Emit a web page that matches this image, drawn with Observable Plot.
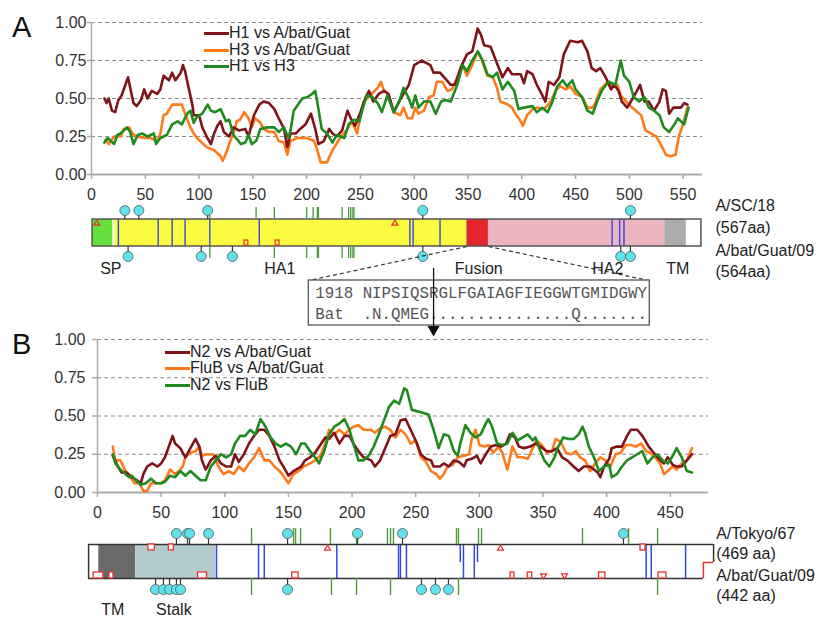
<!DOCTYPE html>
<html><head><meta charset="utf-8">
<script src="https://cdn.jsdelivr.net/npm/d3@7"></script>
<script src="https://cdn.jsdelivr.net/npm/@observablehq/plot@0.6"></script>
<style>
body{margin:0;background:#fff;}
#fig{position:relative;width:816px;height:619px;overflow:hidden;background:#fff;}
</style></head>
<body><div id="fig"></div>
<script>
// ---------- Panel A: HA identity ----------
const xTicksA = [0,50,100,150,200,250,300,350,400,450,500,550];
const yTicks = [0,0.25,0.5,0.75,1];
const seriesA = ["H1 vs A/bat/Guat","H3 vs A/bat/Guat","H1 vs H3"];
const h1BatA = [[12,.50],[14,.47],[16,.50],[19,.42],[22,.41],[25,.49],[28,.52],[32,.60],[34,.64],[36,.57],[39,.47],[42,.45],[46,.49],[49,.56],[52,.50],[56,.55],[61,.53],[64,.56],[67,.65],[72,.62],[75,.67],[78,.62],[83,.67],[85,.72],[87,.68],[90,.58],[94,.45],[95,.39],[100,.39],[103,.31],[107,.25],[111,.20],[114,.27],[117,.32],[120,.35],[123,.28],[128,.25],[132,.31],[137,.29],[143,.30],[146,.25],[151,.39],[156,.46],[160,.48],[165,.47],[170,.43],[174,.37],[179,.30],[182,.18],[185,.27],[190,.27],[194,.30],[199,.33],[204,.40],[208,.30],[211,.20],[216,.22],[221,.30],[224,.27],[228,.25],[233,.29],[238,.42],[241,.37],[245,.32],[250,.41],[255,.51],[258,.55],[262,.48],[267,.53],[272,.55],[276,.53],[281,.41],[286,.48],[290,.53],[295,.59],[300,.72],[307,.75],[315,.72],[318,.67],[324,.67],[334,.59],[338,.59],[343,.70],[349,.79],[354,.81],[359,.96],[362,.92],[365,.85],[371,.84],[377,.73],[382,.64],[387,.70],[391,.66],[399,.66],[402,.60],[405,.68],[410,.66],[414,.59],[417,.55],[422,.48],[425,.61],[430,.59],[435,.64],[439,.79],[445,.88],[452,.87],[456,.88],[461,.81],[465,.70],[469,.68],[473,.70],[478,.64],[483,.56],[486,.59],[490,.55],[493,.48],[498,.44],[504,.51],[510,.59],[514,.48],[518,.48],[523,.42],[528,.48],[531,.56],[534,.55],[537,.40],[541,.44],[548,.44],[551,.47],[554,.46]];
const h3BatA = [[13,.23],[16,.20],[21,.25],[27,.25],[30,.30],[35,.31],[38,.27],[42,.25],[49,.24],[55,.24],[61,.22],[64,.27],[67,.39],[70,.40],[75,.46],[84,.46],[87,.40],[92,.31],[95,.27],[98,.24],[101,.22],[107,.18],[114,.16],[120,.12],[122,.09],[125,.14],[128,.20],[132,.27],[135,.35],[138,.36],[142,.41],[146,.37],[149,.31],[152,.37],[157,.34],[160,.30],[165,.28],[170,.28],[174,.22],[179,.21],[182,.13],[185,.22],[191,.24],[200,.24],[207,.22],[210,.16],[213,.08],[219,.08],[222,.13],[225,.17],[231,.24],[238,.30],[242,.35],[247,.27],[250,.39],[253,.48],[259,.52],[266,.57],[269,.61],[272,.55],[276,.53],[281,.41],[287,.39],[290,.44],[294,.37],[298,.37],[301,.44],[304,.40],[309,.42],[314,.51],[318,.52],[321,.61],[326,.61],[331,.55],[335,.56],[340,.64],[345,.72],[349,.65],[354,.72],[359,.81],[363,.75],[368,.65],[373,.64],[377,.57],[380,.48],[387,.46],[391,.44],[394,.40],[399,.35],[401,.32],[405,.39],[410,.43],[414,.44],[419,.43],[422,.44],[427,.48],[432,.56],[436,.58],[441,.56],[445,.58],[450,.53],[456,.51],[461,.44],[466,.44],[469,.48],[473,.56],[480,.61],[484,.58],[489,.59],[492,.52],[497,.48],[501,.45],[506,.42],[511,.39],[515,.29],[520,.27],[525,.25],[529,.20],[534,.13],[538,.12],[543,.13],[546,.25],[549,.31],[554,.44]];
const h1h3A = [[12,.21],[15,.24],[18,.22],[21,.20],[24,.26],[27,.27],[33,.31],[36,.28],[39,.20],[43,.26],[47,.27],[52,.25],[58,.27],[60,.20],[64,.24],[70,.26],[75,.33],[80,.35],[84,.33],[89,.40],[92,.42],[95,.34],[98,.38],[103,.40],[108,.46],[111,.42],[115,.41],[120,.43],[125,.35],[128,.36],[132,.26],[139,.20],[143,.21],[146,.26],[149,.20],[153,.22],[157,.30],[163,.31],[170,.31],[174,.28],[179,.31],[183,.24],[185,.29],[188,.42],[193,.47],[196,.50],[201,.51],[205,.53],[208,.55],[211,.43],[214,.30],[219,.27],[224,.21],[228,.26],[235,.24],[239,.33],[244,.36],[249,.35],[252,.43],[256,.52],[261,.51],[266,.47],[270,.41],[275,.52],[281,.41],[286,.48],[290,.57],[295,.50],[298,.44],[301,.52],[304,.44],[309,.48],[315,.48],[320,.40],[325,.48],[329,.49],[334,.48],[340,.59],[345,.72],[349,.68],[354,.75],[359,.81],[363,.76],[368,.66],[373,.64],[377,.67],[382,.56],[387,.61],[393,.55],[397,.43],[402,.44],[410,.45],[414,.41],[419,.44],[424,.41],[428,.47],[433,.58],[438,.62],[442,.58],[447,.62],[450,.56],[456,.51],[461,.42],[466,.40],[470,.48],[475,.56],[481,.61],[487,.59],[492,.75],[495,.65],[500,.61],[504,.51],[509,.48],[514,.51],[518,.44],[523,.42],[528,.39],[532,.31],[537,.28],[542,.33],[545,.37],[551,.33],[555,.44]];

// HA domain map (residue positions)
const haDomainNames = ["SP","gap","HA1","Fusion","HA2","TM","tail"];
const haDomainStart = [1,20,22,349,369,533,553];
const haDomainEnd   = [20,22,349,369,533,553,567];
const haLabels = ["SP","HA1","Fusion","HA2","TM"];
const haLabelPos = [18,175,360,480,545];
const haBlue = [25,62,75,87,110,156,296,299,324,484,491,495];
const haCyanTop = [31,44,108,308,501];
const haCyanBottom = [34,102,131,308,492,501];
const haGreenTop = [110,153,170,200,206,210,211,233,239,241,243,244];
const haGreenBottom = [110,170,200,210,211,233,239,241,243,244];
const haRedTri = [5,282];
const haRedBump = [144,173];
const haSeqNames = ["A/SC/18","(567aa)","A/bat/Guat/09","(564aa)"];
const fusionRows = ["1918 NIPSIQSRGLFGAIAGFIEGGWTGMIDGWY","Bat  .N.QMEG...............Q......."];

// ---------- Panel B: NA identity ----------
const xTicksB = [0,50,100,150,200,250,300,350,400,450];
const seriesB = ["N2 vs A/bat/Guat","FluB vs A/bat/Guat","N2 vs FluB"];
const n2BatB = [[12,.24],[16,.17],[19,.13],[23,.13],[27,.10],[31,.08],[34,.06],[36,.12],[39,.17],[43,.19],[47,.17],[50,.19],[53,.23],[56,.30],[59,.37],[61,.32],[65,.29],[69,.23],[73,.29],[77,.35],[80,.30],[82,.21],[85,.15],[89,.21],[93,.24],[97,.19],[101,.17],[105,.17],[108,.25],[111,.20],[115,.25],[119,.32],[123,.37],[127,.41],[131,.41],[135,.37],[139,.30],[143,.21],[146,.17],[150,.11],[154,.14],[160,.17],[163,.21],[167,.23],[171,.26],[175,.31],[179,.36],[182,.35],[186,.39],[190,.32],[194,.37],[198,.37],[201,.32],[205,.27],[209,.23],[215,.21],[218,.17],[222,.21],[226,.29],[230,.37],[234,.38],[238,.47],[242,.48],[246,.41],[251,.32],[254,.25],[258,.22],[262,.21],[264,.17],[269,.17],[272,.19],[276,.17],[280,.21],[284,.20],[288,.17],[290,.21],[294,.22],[298,.24],[301,.19],[305,.25],[309,.30],[313,.31],[317,.30],[321,.32],[324,.38],[328,.36],[331,.30],[335,.29],[340,.30],[344,.32],[348,.30],[353,.27],[357,.27],[361,.29],[365,.23],[369,.21],[374,.17],[378,.14],[382,.17],[387,.17],[393,.13],[395,.10],[398,.17],[402,.22],[404,.29],[408,.30],[412,.30],[416,.37],[419,.41],[424,.41],[428,.37],[431,.33],[433,.30],[437,.26],[441,.22],[445,.19],[448,.23],[452,.18],[455,.17],[459,.17],[463,.21],[467,.25]];
const flubBatB = [[12,.30],[14,.21],[18,.21],[22,.14],[26,.10],[29,.06],[33,.06],[36,.01],[39,.01],[42,.06],[46,.06],[50,.06],[53,.08],[57,.15],[61,.12],[64,.14],[67,.17],[69,.23],[73,.26],[77,.27],[80,.30],[82,.24],[86,.25],[91,.25],[95,.17],[99,.12],[103,.14],[107,.12],[111,.17],[115,.14],[119,.19],[123,.23],[127,.29],[131,.21],[135,.21],[139,.17],[143,.14],[146,.11],[150,.06],[154,.12],[158,.14],[162,.17],[167,.19],[171,.21],[175,.24],[179,.32],[182,.41],[186,.38],[190,.41],[194,.38],[198,.41],[201,.43],[205,.44],[209,.41],[215,.41],[218,.39],[222,.42],[226,.43],[230,.41],[234,.36],[238,.41],[242,.38],[246,.32],[250,.34],[254,.23],[258,.20],[262,.14],[266,.12],[269,.09],[272,.12],[275,.17],[279,.18],[283,.23],[288,.24],[292,.25],[294,.35],[297,.41],[300,.31],[304,.30],[307,.31],[311,.26],[315,.30],[318,.26],[322,.15],[326,.30],[330,.23],[334,.23],[338,.22],[342,.29],[345,.34],[349,.31],[353,.26],[357,.27],[360,.35],[364,.33],[368,.26],[372,.25],[376,.27],[379,.23],[383,.21],[387,.14],[391,.19],[395,.23],[399,.21],[403,.17],[407,.25],[411,.26],[415,.31],[419,.31],[423,.30],[427,.32],[431,.27],[434,.26],[438,.23],[442,.19],[445,.12],[448,.14],[452,.17],[455,.15],[459,.19],[463,.21],[467,.29]];
const n2FlubB = [[12,.25],[14,.19],[18,.15],[22,.12],[25,.10],[27,.11],[30,.08],[34,.05],[38,.06],[42,.09],[46,.06],[50,.06],[53,.07],[57,.11],[61,.10],[65,.14],[69,.11],[73,.14],[77,.11],[81,.08],[85,.08],[89,.17],[93,.21],[97,.25],[101,.23],[105,.25],[108,.32],[112,.37],[116,.37],[120,.41],[124,.38],[128,.48],[132,.43],[136,.36],[140,.32],[144,.30],[148,.32],[152,.30],[156,.25],[160,.32],[163,.32],[167,.27],[171,.23],[174,.19],[178,.27],[182,.38],[186,.43],[190,.45],[194,.48],[198,.41],[201,.32],[205,.21],[209,.21],[213,.24],[217,.30],[221,.38],[225,.47],[229,.56],[233,.60],[237,.58],[241,.68],[243,.67],[247,.54],[252,.53],[260,.51],[264,.41],[268,.29],[272,.38],[276,.37],[280,.27],[283,.24],[285,.32],[289,.44],[293,.39],[297,.36],[301,.38],[305,.45],[307,.48],[310,.43],[314,.32],[318,.31],[322,.32],[326,.39],[330,.34],[334,.36],[338,.38],[342,.34],[344,.36],[347,.29],[351,.21],[355,.17],[359,.23],[362,.30],[366,.36],[370,.35],[374,.35],[378,.38],[381,.43],[383,.39],[386,.30],[390,.23],[394,.14],[398,.17],[402,.18],[404,.10],[408,.12],[412,.17],[416,.21],[420,.23],[424,.25],[428,.27],[432,.19],[436,.23],[440,.25],[444,.21],[448,.19],[452,.24],[455,.29],[459,.23],[463,.14],[467,.13]];

// NA domain map (alignment positions)
const naDomainNames = ["TM","Stalk"];
const naDomainStart = [1,30];
const naDomainEnd = [30,93];
const naSpanTop = [-7,484];
const naSpanBottom = [-7,476];
const naBlueFull = [93.5,126.5,131,188,236.5,238,242.7,287.5,296,431,435,462];
const naBluePartial = [285,298.5];
const naCyanTop = [62,70.7,72.3,87.2,149.3,204.3,239.6,413.2];
const naCyanBottom = [45.6,51.8,56.6,62,65.2,149.3,254.5,265.5,275.7];
const naGreenTop = [121,154,155.6,159.5,183,203.5,227.8,230.2,232.5,282,283.6,299.3,301.7,381,417.2,440];
const naGreenBottom = [121,183.8,203.5,230.2,283.6,440];
const naInsTop = [[40,45],[56,60],[426.6,430.5]];
const naInsBottom = [[-3,4.7],[9.4,12.6],[79,86],[153,158],[324.5,327.5],[338,341.5],[394,399],[440.7,447]];
const naTriTop = [180.7,316.6];
const naTriBottom = [350.4,366.9];
const naLabels = ["TM","Stalk"];
const naLabelPos = [12,60];
const naSeqNames = ["A/Tokyo/67","(469 aa)","A/bat/Guat/09","(442 aa)"];

// ---------- styles ----------
const FONT = "Arial, 'Liberation Sans', Helvetica, sans-serif";
const MONO = "'Courier New', 'Liberation Mono', monospace";
const cDark = "#80141a", cOrange = "#ff7a1a", cGreen = "#1f8a1f";
const axisGray = "#ababab", gridGray = "#8c8c8c";
const cBlue = "#3447e6", cCyan = "#5fe2ec", cTick = "#4e9b3e", cRed = "#e8302f";
const domainColor = {SP:"#66e03c", gap:"#fffbe0", HA1:"#fbfb42", Fusion:"#e2262b", HA2:"#ebb4bf", TM:"#acacac", tail:"#ffffff"};
const naDomainColor = {TM:"#6a6a6a", Stalk:"#b4cbce"};
const baseStyle = {background:"none", fontFamily: FONT, fontSize:"16px", overflow:"visible", color:"#333"};

const fig = document.getElementById("fig");
function place(el, top, left = 0) {
  el.style.position = "absolute"; el.style.left = left + "px"; el.style.top = top + "px";
  fig.appendChild(el);
}
const pts = (arr) => arr.map(([x, y]) => ({x, y}));

function lineChart({xTicks, xMax, mL, mR, mT, mB, h, series, colors, ytickSize, ytickPad}) {
  return Plot.plot({
    width: 816, height: h, marginLeft: mL, marginRight: mR, marginTop: mT, marginBottom: mB,
    style: baseStyle,
    x: {domain: [0, xMax], label: null},
    y: {domain: [0, 1], label: null},
    marks: [
      Plot.ruleY(yTicks.slice(1), {stroke: gridGray, strokeDasharray: "4,3", strokeWidth: 1}),
      Plot.ruleX([0], {stroke: axisGray, strokeWidth: 1.5}),
      Plot.ruleY([0], {stroke: axisGray, strokeWidth: 2}),
      Plot.axisX(xTicks, {label: null, tickSize: 5, tickPadding: 9, stroke: axisGray, strokeWidth: 1.5, fill: "#333", fontSize: 16}),
      Plot.axisY(yTicks, {label: null, tickSize: ytickSize, tickPadding: ytickPad, tickFormat: d3.format(".2f"), stroke: axisGray, strokeWidth: 1.5, fill: "#333", fontSize: 16}),
      Plot.line(pts(series[1]), {x: "x", y: "y", stroke: colors[1], strokeWidth: 2.6}),
      Plot.line(pts(series[0]), {x: "x", y: "y", stroke: colors[0], strokeWidth: 2.6}),
      Plot.line(pts(series[2]), {x: "x", y: "y", stroke: colors[2], strokeWidth: 2.6})
    ]
  });
}

// Chart A
const chartA = lineChart({xTicks: xTicksA, xMax: 568, mL: 91, mR: 114, mT: 22, mB: 26, h: 200,
  series: [h1BatA, h3BatA, h1h3A], colors: [cDark, cOrange, cGreen], ytickSize: 4, ytickPad: 1});
place(chartA, 0);

// Chart B
const chartB = lineChart({xTicks: xTicksB, xMax: 480, mL: 97, mR: 108, mT: 19, mB: 28, h: 200,
  series: [n2BatB, flubBatB, n2FlubB], colors: [cDark, cOrange, cGreen], ytickSize: 5, ytickPad: 7});
place(chartB, 320);

// HA diagram (y in page pixels, 185..340)
const haDomains = haDomainNames.map((n, i) => ({name: n, start: haDomainStart[i], end: haDomainEnd[i]}));
const diagA = Plot.plot({
  width: 816, height: 155, marginLeft: 91, marginRight: 114, marginTop: 0, marginBottom: 0,
  style: baseStyle,
  x: {domain: [0, 568], axis: null},
  y: {domain: [185, 340], range: [0, 155], axis: null},
  marks: [
    Plot.rect(haDomains, {x1: "start", x2: "end", y1: 219, y2: 246, fill: d => domainColor[d.name]}),
    Plot.ruleX(haBlue, {y1: 219, y2: 246, stroke: cBlue, strokeWidth: 1.4}),
    Plot.rect([0], {x1: haDomainStart[0], x2: haDomainEnd[haDomainEnd.length-1], y1: 219, y2: 246, stroke: "#555", strokeWidth: 1.5, fill: "none"}),
    Plot.dot(haRedTri, {x: d => d, y: 223, symbol: "triangle", r: 2.2, stroke: cRed, fill: "none", strokeWidth: 1.2}),
    Plot.rect(haRedBump, {x1: d => d - 1.8, x2: d => d + 1.8, y1: 240, y2: 245, stroke: cRed, fill: "none", strokeWidth: 1.2}),
    Plot.ruleX(haGreenTop, {y1: 207, y2: 219, stroke: cTick, strokeWidth: 1.3}),
    Plot.ruleX(haGreenBottom, {y1: 246, y2: 258, stroke: cTick, strokeWidth: 1.3}),
    Plot.ruleX(haCyanTop, {y1: 210, y2: 219, stroke: "#333", strokeWidth: 1.2}),
    Plot.ruleX(haCyanBottom, {y1: 246, y2: 256, stroke: "#333", strokeWidth: 1.2}),
    Plot.dot(haCyanTop, {x: d => d, y: 210, r: 5, fill: cCyan, stroke: "#555", strokeWidth: 0.8}),
    Plot.dot(haCyanBottom, {x: d => d, y: 256, r: 5, fill: cCyan, stroke: "#555", strokeWidth: 0.8}),
    // fusion peptide zoom box
    Plot.link([0, 1], {x1: i => [haDomainStart[3], haDomainEnd[3]][i], y1: 246, x2: i => [202, 518][i], y2: 280, stroke: "#333", strokeDasharray: "4,3", strokeWidth: 1.2}),
    Plot.text(haLabels, {x: (d, i) => haLabelPos[i], y: 268, text: d => d, fontSize: 16, fill: "#222"}),
    Plot.rect([0], {x1: 202, x2: 519, y1: 280, y2: 325, fill: "white", stroke: "#555", strokeWidth: 1.3}),
    Plot.text(fusionRows, {x: 208, y: (d, i) => 292 + i * 21, text: d => d, textAnchor: "start", fontFamily: MONO, fontSize: 15.8, fill: "#555"}),
    Plot.ruleX([318], {y1: 268, y2: 326, stroke: "#111", strokeWidth: 1.3}),
    Plot.dot([318], {x: d => d, y: 329, symbol: "triangle", r: 4.5, fill: "#111", rotate: 180}),
    Plot.text(haSeqNames, {x: 580, y: (d, i) => [205, 227, 250, 271][i], text: d => d, textAnchor: "start", fontSize: 16, fill: "#222"})
  ]
});
place(diagA, 185);

// NA diagram (y in page pixels, 518..619)
const naDomains = naDomainNames.map((n, i) => ({name: n, start: naDomainStart[i], end: naDomainEnd[i]}));
const diagB = Plot.plot({
  width: 816, height: 101, marginLeft: 97, marginRight: 108, marginTop: 0, marginBottom: 0,
  style: baseStyle,
  x: {domain: [0, 480], axis: null},
  y: {domain: [518, 619], range: [0, 101], axis: null},
  marks: [
    Plot.rect(naDomains, {x1: "start", x2: "end", y1: 544, y2: 578, fill: d => naDomainColor[d.name]}),
    Plot.ruleX(naBlueFull, {y1: 544, y2: 578, stroke: cBlue, strokeWidth: 1.5}),
    Plot.ruleX(naBluePartial, {y1: 544, y2: 562, stroke: cBlue, strokeWidth: 1.5}),
    Plot.ruleY([544], {x1: naSpanTop[0], x2: naSpanTop[1], stroke: "#333", strokeWidth: 1.5}),
    Plot.ruleY([578], {x1: naSpanBottom[0], x2: naSpanBottom[1], stroke: "#333", strokeWidth: 1.5}),
    Plot.ruleX([naSpanTop[0]], {y1: 544, y2: 578, stroke: "#333", strokeWidth: 1.5}),
    Plot.ruleX([naSpanTop[1]], {y1: 544, y2: 562, stroke: "#333", strokeWidth: 1.5}),
    Plot.ruleY([562], {x1: naSpanBottom[1], x2: naSpanTop[1], stroke: cRed, strokeWidth: 1.5}),
    Plot.ruleX([naSpanBottom[1]], {y1: 562, y2: 578, stroke: cRed, strokeWidth: 1.5}),
    Plot.rect(naInsTop, {x1: d => d[0], x2: d => d[1], y1: 544, y2: 550, fill: "white", stroke: cRed, strokeWidth: 1.3}),
    Plot.rect(naInsBottom, {x1: d => d[0], x2: d => d[1], y1: 572, y2: 578, fill: "white", stroke: cRed, strokeWidth: 1.3}),
    Plot.dot(naTriTop, {x: d => d, y: 548, symbol: "triangle", r: 2.2, stroke: cRed, fill: "none", strokeWidth: 1.2}),
    Plot.dot(naTriBottom, {x: d => d, y: 575, symbol: "triangle", r: 2.2, stroke: cRed, fill: "none", strokeWidth: 1.2, rotate: 180}),
    Plot.ruleX(naGreenTop, {y1: 528, y2: 544, stroke: cTick, strokeWidth: 1.4}),
    Plot.ruleX(naGreenBottom, {y1: 578, y2: 595, stroke: cTick, strokeWidth: 1.4}),
    Plot.ruleX(naCyanTop, {y1: 533, y2: 544, stroke: "#333", strokeWidth: 1.2}),
    Plot.ruleX(naCyanBottom, {y1: 578, y2: 589, stroke: "#333", strokeWidth: 1.2}),
    Plot.dot(naCyanTop, {x: d => d, y: 533, r: 5, fill: cCyan, stroke: "#555", strokeWidth: 0.8}),
    Plot.dot(naCyanBottom, {x: d => d, y: 589, r: 5, fill: cCyan, stroke: "#555", strokeWidth: 0.8}),
    Plot.text(naLabels, {x: (d, i) => naLabelPos[i], y: 609, text: d => d, fontSize: 16, fill: "#222"}),
    Plot.text(naSeqNames, {x: 486, y: (d, i) => [533, 553, 575, 595][i], text: d => d, textAnchor: "start", fontSize: 16, fill: "#222"})
  ]
});
place(diagB, 518);

// legends and panel letters (HTML)
function legend(labels, colors, left, centers) {
  labels.forEach((lab, i) => {
    const d = document.createElement("div");
    d.style.cssText = `position:absolute;left:${left}px;top:${centers[i]-10}px;height:20px;font:16px ${FONT};color:#222;white-space:nowrap;display:flex;align-items:center;`;
    d.innerHTML = `<span style="display:inline-block;width:25px;height:3px;background:${colors[i]}"></span><span>${lab}</span>`;
    fig.appendChild(d);
  });
}
legend(seriesA, [cDark, cOrange, cGreen], 204, [33, 50, 66]);
legend(seriesB, [cDark, cOrange, cGreen], 165, [352, 368, 385]);

function letter(t, left, top) {
  const d = document.createElement("div");
  d.textContent = t;
  d.style.cssText = `position:absolute;left:${left}px;top:${top}px;font:29px/29px ${FONT};color:#111;`;
  fig.appendChild(d);
}
letter("A", 12, 13);
letter("B", 12, 330);
</script></body></html>
